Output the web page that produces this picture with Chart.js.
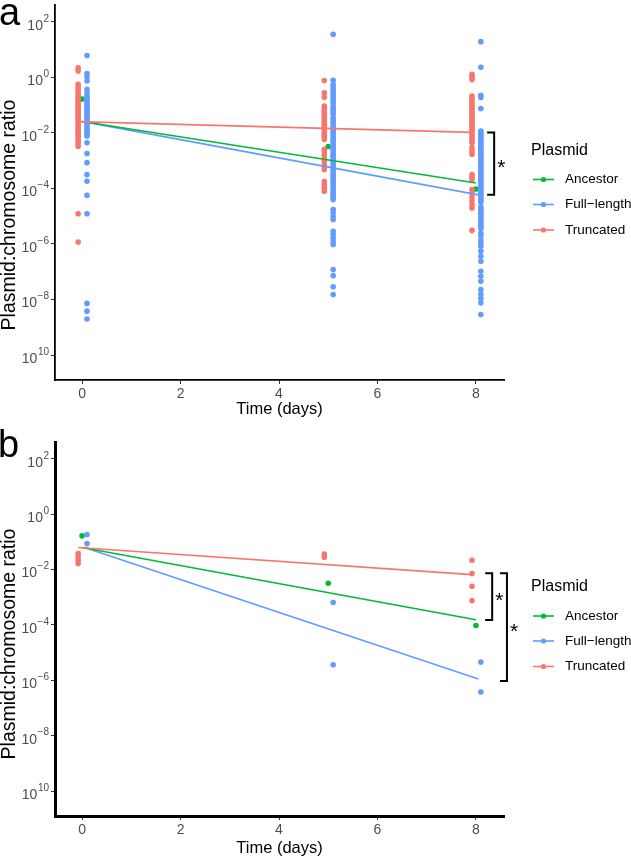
<!DOCTYPE html>
<html>
<head>
<meta charset="utf-8">
<script src="https://cdn.jsdelivr.net/npm/chart.js@4.4.1/dist/chart.umd.min.js"></script>
<style>
body { margin: 0; background: #fff; width: 631px; height: 858px; overflow: hidden; font-family: "Liberation Sans", Arial, sans-serif; }
.panel { position: relative; width: 631px; height: 429px; }
.letter { position: absolute; font-size: 38px; line-height: 1; color: #000; }
</style>
</head>
<body>
<div class="panel"><canvas id="chartA" width="631" height="429"></canvas><div class="letter" style="left:-1px;top:-7px">a</div></div>
<div class="panel"><canvas id="chartB" width="631" height="429"></canvas><div class="letter" style="left:-2px;top:-4px">b</div></div>
<script>
// values are log10(plasmid:chromosome ratio)
const days = [0, 5, 8];
const xTicks = [0, 2, 4, 6, 8];
const yTickExps = [2, 0, -2, -4, -6, -8, -10];
const yTickBase = '10';
const yTickExpLabels = ['2', '0', '\u22122', '\u22124', '\u22126', '\u22128', '10'];
const plasmids = ['Ancestor', 'Full\u2212length', 'Truncated'];

const ancestorLog = [-0.78, -2.49, -4.02];

// panel a
const truncatedA0 = [0.35, 0.23, -0.25, -0.36, -0.44, -0.55, -0.63, -0.7, -0.79, -0.86, -0.93, -1.0, -1.09, -1.15, -1.23, -1.3, -1.37, -1.46, -1.52, -1.6, -1.67, -1.76, -1.83, -1.9, -1.97, -2.06, -2.12, -2.21, -2.3, -2.39, -2.48, -4.91, -5.93];
const truncatedA5 = [-0.11, -0.55, -0.71, -1.03, -1.1, -1.19, -1.25, -1.34, -1.4, -1.47, -1.56, -1.62, -1.7, -1.79, -1.85, -1.93, -2.01, -2.08, -2.15, -2.23, -2.59, -2.68, -2.8, -2.9, -2.99, -3.12, -3.21, -3.32, -3.74, -3.86, -3.98, -4.1];
const truncatedA8 = [0.11, 0.02, -0.07, -0.67, -0.75, -0.84, -0.9, -0.99, -1.06, -1.13, -1.21, -1.28, -1.35, -1.43, -1.5, -1.59, -1.66, -1.73, -1.81, -1.88, -1.95, -2.03, -2.11, -2.18, -2.27, -2.35, -2.53, -2.66, -2.77, -3.5, -3.6, -3.68, -4.04, -4.17, -4.31, -4.44, -4.58, -4.7, -5.51];
const fullA0 = [0.79, 0.14, 0.02, -0.13, -0.43, -0.55, -0.67, -0.75, -0.82, -0.91, -0.98, -1.05, -1.13, -1.2, -1.27, -1.35, -1.43, -1.5, -1.57, -1.65, -1.72, -1.81, -1.88, -1.95, -2.03, -2.11, -2.35, -2.74, -3.07, -3.5, -3.74, -4.25, -4.91, -8.14, -8.42, -8.7];
const fullA5 = [1.55, -0.1, -0.25, -0.34, -0.42, -0.5, -0.59, -0.67, -0.75, -0.84, -0.91, -1.03, -1.11, -1.18, -1.26, -1.33, -1.45, -1.52, -1.61, -1.68, -1.76, -1.83, -1.92, -2.0, -2.07, -2.16, -2.24, -2.31, -2.4, -2.48, -2.56, -2.63, -2.72, -2.8, -2.87, -2.96, -3.04, -3.11, -3.2, -3.28, -3.35, -3.44, -3.52, -3.6, -3.67, -3.76, -3.84, -3.91, -4.0, -4.08, -4.17, -4.24, -4.32, -4.4, -4.76, -4.87, -5.0, -5.12, -5.54, -5.67, -5.79, -5.92, -6.02, -6.92, -7.14, -7.54, -7.82];
const fullA8 = [1.29, 0.37, -0.64, -0.72, -1.12, -1.93, -2.0, -2.06, -2.13, -2.2, -2.26, -2.33, -2.41, -2.48, -2.55, -2.61, -2.69, -2.76, -2.83, -2.9, -2.97, -3.05, -3.12, -3.18, -3.26, -3.33, -3.4, -3.47, -3.55, -3.62, -3.69, -3.76, -3.84, -3.91, -3.98, -4.05, -4.13, -4.2, -4.27, -4.34, -4.42, -4.5, -4.66, -4.74, -4.81, -4.89, -4.96, -5.04, -5.12, -5.2, -5.28, -5.36, -5.43, -5.6, -5.7, -5.86, -5.96, -6.08, -6.26, -6.44, -6.62, -6.98, -7.16, -7.34, -7.64, -7.8, -7.96, -8.12, -8.54];

// panel b
const truncatedB0 = [-1.42, -1.54, -1.66, -1.78];
const truncatedB5 = [-1.44, -1.55];
const truncatedB8 = [-1.66, -2.14, -2.6, -3.12];
const fullB0 = [-0.73, -1.06];
const fullB5 = [-3.19, -5.44];
const fullB8 = [-5.34, -6.42];

// fitted lines: log10 value at day 0 and day 8
const fitDays = [0, 8];
const fitA_ancestor = [-1.59, -3.8];
const fitA_full = [-1.6, -4.23];
const fitA_truncated = [-1.59, -1.98];
const fitB_ancestor = [-1.2, -3.81];
const fitB_full = [-1.2, -5.95];
const fitB_truncated = [-1.2, -2.18];

const RED = '#F8766D', GREEN = '#00BA38', BLUE = '#619CFF';
const dodge = { ancestor: 0, full: 0.1, truncated: -0.08 };
const FONT = '"Liberation Sans", Arial, sans-serif';

function toPoints(lists, dx) {
    const out = [];
    lists.forEach((logs, i) => logs.forEach(v => out.push({ x: days[i] + dx, y: Math.pow(10, v) })));
    return out;
}

function fitLine(fit, dx) {
    return fit.map((v, i) => ({ x: fitDays[i] + dx, y: Math.pow(10, v) }));
}

// y tick labels with real superscripts, and the rotated y title
const yAxisTextPlugin = {
    id: 'yAxisText',
    afterDraw(chart) {
        const { ctx } = chart;
        const ys = chart.scales.y;
        ctx.save();
        ctx.fillStyle = '#4d4d4d';
        ctx.textBaseline = 'middle';
        yTickExps.forEach((e, i) => {
            const y = ys.getPixelForValue(Math.pow(10, e));
            ctx.font = '10px ' + FONT;
            const w = ctx.measureText(yTickExpLabels[i]).width;
            ctx.textAlign = 'left';
            ctx.fillText(yTickExpLabels[i], 49 - w, y - 3);
            ctx.font = '14px ' + FONT;
            ctx.textAlign = 'right';
            ctx.fillText(yTickBase, 49 - w - 0.5, y + 4);
        });
        ctx.fillStyle = '#000';
        ctx.font = '19.5px ' + FONT;
        ctx.textAlign = 'center';
        ctx.translate(10, 215);
        ctx.rotate(-Math.PI / 2);
        ctx.fillText('Plasmid:chromosome ratio', 0, 0);
        ctx.restore();
    }
};

const legendPlugin = {
    id: 'plasmidLegend',
    afterDraw(chart) {
        const { ctx, chartArea } = chart;
        const cy = (chartArea.top + chartArea.bottom) / 2;
        ctx.save();
        ctx.fillStyle = '#000';
        ctx.textBaseline = 'middle';
        ctx.font = '16px ' + FONT;
        ctx.fillText('Plasmid', 531, cy - 42);
        const cols = [GREEN, BLUE, RED];
        const offs = [-13, 12, 37.5];
        ctx.font = '13.5px ' + FONT;
        plasmids.forEach((name, i) => {
            const y = cy + offs[i];
            ctx.strokeStyle = cols[i];
            ctx.lineWidth = 1.6;
            ctx.beginPath();
            ctx.moveTo(533, y);
            ctx.lineTo(554, y);
            ctx.stroke();
            ctx.fillStyle = cols[i];
            ctx.beginPath();
            ctx.arc(543.5, y, 2.6, 0, Math.PI * 2);
            ctx.fill();
            ctx.fillStyle = '#000';
            ctx.fillText(name, 565, y);
        });
        ctx.restore();
    }
};

const bracketPlugin = {
    id: 'brackets',
    afterDraw(chart, args, opts) {
        const { ctx } = chart;
        const xs = chart.scales.x, ys = chart.scales.y;
        ctx.save();
        ctx.strokeStyle = '#000';
        ctx.lineWidth = 2;
        ctx.fillStyle = '#000';
        ctx.font = '21px ' + FONT;
        ctx.textBaseline = 'middle';
        (opts.items || []).forEach(b => {
            const px = xs.getPixelForValue(b.x);
            const y1 = ys.getPixelForValue(Math.pow(10, b.from));
            const y2 = ys.getPixelForValue(Math.pow(10, b.to));
            ctx.beginPath();
            ctx.moveTo(px - 7, y1);
            ctx.lineTo(px, y1);
            ctx.lineTo(px, y2);
            ctx.lineTo(px - 7, y2);
            ctx.stroke();
            ctx.fillText('*', px + 3, (y1 + y2) / 2 + 5);
        });
        ctx.restore();
    }
};

function makeChart(id, pts, fits, opt) {
    const datasets = [
        { data: fitLine(fits.truncated, dodge.truncated), showLine: true, borderColor: RED, borderWidth: 1.6, pointRadius: 0, order: 1 },
        { data: fitLine(fits.ancestor, dodge.ancestor), showLine: true, borderColor: GREEN, borderWidth: 1.6, pointRadius: 0, order: 2 },
        { data: fitLine(fits.full, 0.05), showLine: true, borderColor: BLUE, borderWidth: 1.6, pointRadius: 0, order: 3 },
        { data: toPoints(pts.truncated, dodge.truncated), backgroundColor: RED, borderWidth: 0, pointRadius: 2.8, order: 4 },
        { data: toPoints(pts.full, dodge.full), backgroundColor: BLUE, borderWidth: 0, pointRadius: 2.8, order: 5 },
        { data: toPoints(pts.ancestor, dodge.ancestor), backgroundColor: GREEN, borderWidth: 0, pointRadius: 2.8, order: 6 }
    ];
    const ctx = document.getElementById(id).getContext('2d');
    return new Chart(ctx, {
        type: 'scatter',
        data: { datasets: datasets },
        plugins: [yAxisTextPlugin, legendPlugin, bracketPlugin],
        options: {
            responsive: false,
            animation: false,
            events: [],
            layout: { padding: { top: opt.top, right: 127, left: 0, bottom: 0 } },
            plugins: {
                legend: { display: false },
                tooltip: { enabled: false },
                brackets: { items: opt.brackets }
            },
            scales: {
                x: {
                    type: 'linear',
                    min: -0.55,
                    max: 8.57,
                    afterBuildTicks: s => { s.ticks = xTicks.map(v => ({ value: v })); },
                    afterFit: s => { s.height = opt.xh; },
                    grid: { drawOnChartArea: false, drawTicks: true, tickLength: 4, color: '#333' },
                    border: { display: true, color: '#000', width: opt.axisW },
                    ticks: { color: '#4d4d4d', font: { family: FONT, size: 14 }, padding: 2 },
                    title: { display: true, text: 'Time (days)', color: '#000', font: { family: FONT, size: 16.5 }, padding: { top: 0, bottom: opt.xtPad } }
                },
                y: {
                    type: 'logarithmic',
                    min: Math.pow(10, -10.9),
                    max: Math.pow(10, 2.61),
                    bounds: 'data',
                    afterBuildTicks: s => { s.ticks = yTickExps.map(e => ({ value: Math.pow(10, e) })); },
                    afterFit: s => { s.width = 55; },
                    grid: { drawOnChartArea: false, drawTicks: true, tickLength: 4, color: '#333' },
                    border: { display: true, color: '#000', width: opt.axisW },
                    ticks: { display: false },
                    title: { display: false }
                }
            }
        }
    });
}

makeChart('chartA',
    { truncated: [truncatedA0, truncatedA5, truncatedA8], full: [fullA0, fullA5, fullA8], ancestor: [[ancestorLog[0]], [ancestorLog[1]], [ancestorLog[2]]] },
    { truncated: fitA_truncated, ancestor: fitA_ancestor, full: fitA_full },
    { top: 5, xh: 49, xtPad: 10, axisW: 1.8, brackets: [{ x: 8.37, from: -1.98, to: -4.23 }] });

makeChart('chartB',
    { truncated: [truncatedB0, truncatedB5, truncatedB8], full: [fullB0, fullB5, fullB8], ancestor: [[ancestorLog[0]], [ancestorLog[1]], [ancestorLog[2]]] },
    { truncated: fitB_truncated, ancestor: fitB_ancestor, full: fitB_full },
    { top: 13, xh: 42, xtPad: 0, axisW: 3, brackets: [{ x: 8.33, from: -2.13, to: -3.82 }, { x: 8.63, from: -2.13, to: -6.02 }] });
</script>
</body>
</html>
